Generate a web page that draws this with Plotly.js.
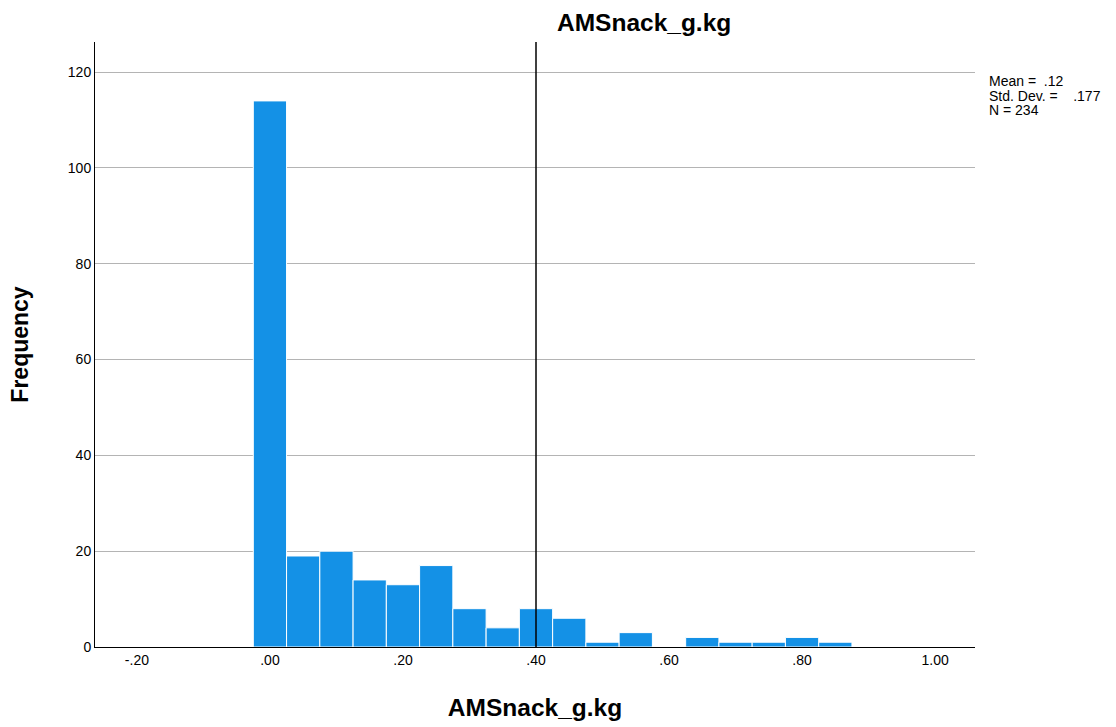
<!DOCTYPE html>
<html>
<head>
<meta charset="utf-8">
<script src="https://cdn.plot.ly/plotly-3.0.1.min.js"></script>
<style>body{margin:0;padding:0;background:#fff;}#chart{width:1116px;height:727px;}</style>
</head>
<body>
<div id="chart"></div>
<script>
const binCenters = [0.00, 0.05, 0.10, 0.15, 0.20, 0.25, 0.30, 0.35, 0.40, 0.45, 0.50, 0.55, 0.60, 0.65, 0.70, 0.75, 0.80, 0.85];
const frequencies = [114, 19, 20, 14, 13, 17, 8, 4, 8, 6, 1, 3, 0, 2, 1, 1, 2, 1];
const binWidth = 0.05;
const xTickVals = [-0.2, 0, 0.2, 0.4, 0.6, 0.8, 1.0];
const xTickText = ['-.20', '.00', '.20', '.40', '.60', '.80', '1.00'];
const yTickVals = [0, 20, 40, 60, 80, 100, 120];
const refLineX = 0.40;
const statsLines = ['Mean =\u00a0\u00a0.12', 'Std. Dev. =\u00a0\u00a0\u00a0\u00a0.177', 'N = 234'];

const trace = {
  type: 'bar',
  x: binCenters,
  y: frequencies,
  width: binCenters.map(() => binWidth),
  marker: {color: '#1491e6', line: {color: '#ffffff', width: 1}},
  hoverinfo: 'x+y'
};

const statsY = [0.936, 0.911, 0.8876];

const layout = {
  width: 1116, height: 727,
  margin: {l: 95, r: 141, t: 42, b: 80},
  paper_bgcolor: '#ffffff', plot_bgcolor: '#ffffff',
  font: {family: 'Liberation Sans, Arial, sans-serif', size: 14, color: '#000'},
  title: {text: '<b>AMSnack_g.kg</b>', font: {size: 24.5, color: '#000'}, x: 0.624, xref: 'paper', xanchor: 'center', y: 0.969, yanchor: 'middle'},
  showlegend: false,
  bargap: 0,
  xaxis: {
    range: [-0.263, 1.060],
    tickvals: xTickVals, ticktext: xTickText,
    showgrid: false, zeroline: false,
    showline: true, linecolor: '#000', linewidth: 1,
    ticks: '', ticklen: 0,
    tickfont: {size: 14},
    title: {text: '<b>AMSnack_g.kg</b>', font: {size: 24.5}, standoff: 32}
  },
  yaxis: {
    range: [0, 126.3],
    tickvals: yTickVals,
    showgrid: true, gridcolor: '#b4b4b4', gridwidth: 1,
    zeroline: false,
    showline: true, linecolor: '#000', linewidth: 1,
    ticks: '', ticklen: 0,
    tickfont: {size: 14},
    title: {text: '<b>Frequency</b>', font: {size: 23}, standoff: 32}
  },
  shapes: [{
    type: 'line', xref: 'x', yref: 'paper', x0: refLineX, x1: refLineX, y0: 0, y1: 1,
    line: {color: '#000', width: 1.5}
  }],
  annotations: statsLines.map((t, i) => ({
    xref: 'paper', yref: 'paper', x: 1.014, y: statsY[i], xanchor: 'left', yanchor: 'middle',
    align: 'left', showarrow: false, text: t, font: {size: 14, color: '#000'}
  }))
};

Plotly.newPlot('chart', [trace], layout, {displayModeBar: false, staticPlot: true});
</script>
</body>
</html>
